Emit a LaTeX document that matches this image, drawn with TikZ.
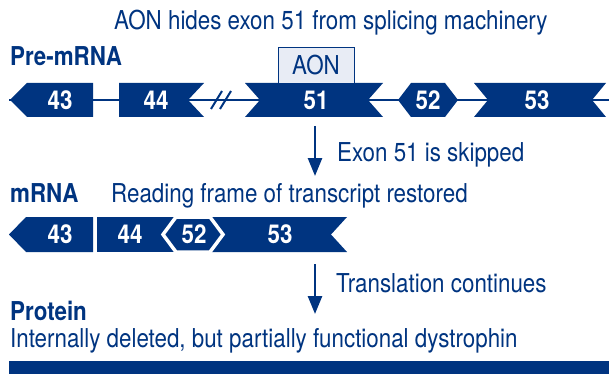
\documentclass[tikz,border=0pt]{standalone}
\usepackage{fontspec}
\setmainfont{TeX Gyre Heros}[FakeStretch=0.86]
\usetikzlibrary{arrows.meta}
\definecolor{navy}{RGB}{0,52,128}
\definecolor{aonfill}{RGB}{232,236,245}
\tikzset{
  exon/.style={fill=navy, draw=none},
  num/.style={text=white, font=\fontsize{26}{30}\selectfont\bfseries, inner sep=0pt, anchor=center},
  txt/.style={text=navy, font=\fontsize{26}{30}\selectfont, inner sep=0pt, anchor=base west},
  hdr/.style={text=navy, font=\fontsize{26}{30}\selectfont\bfseries, inner sep=0pt, anchor=base west},
  intron/.style={draw=navy, line width=2.6pt},
  flow/.style={draw=navy, line width=2.6pt, -{Triangle[width=14pt,length=18pt]}},
}
\begin{document}
\begin{tikzpicture}[x=1pt, y=-1pt]
\useasboundingbox (0,0) rectangle (609,374);

% ---------- pre-mRNA ----------
\node[txt] (title) at (114,30) {AON hides exon 51 from splicing machinery};
\node[hdr] (prelabel) at (10,66) {Pre-mRNA};

\coordinate (pre-start) at (9,100);
\coordinate (pre-end) at (609,100);
\draw[intron] (pre-start) -- (pre-end);
% break marks in the intron
\draw[navy, line width=2pt] (211,109) -- (222,91);
\draw[navy, line width=2pt] (220,109) -- (231,91);

\fill[exon] (10,100) -- (27,83) -- (93,83) -- (93,117) -- (27,117) -- cycle;
\fill[exon] (119,83) -- (204,83) -- (188,100) -- (204,117) -- (119,117) -- cycle;
\fill[exon] (245,83) -- (383,83) -- (368,100) -- (383,117) -- (245,117) -- (260,100) -- cycle;
\fill[exon] (398,100) -- (411,83) -- (445,83) -- (458,100) -- (445,117) -- (411,117) -- cycle;
\fill[exon] (474,83) -- (606,83) -- (592,100) -- (606,117) -- (474,117) -- (488,100) -- cycle;

\node[num] (p43) at (60,100) {43};
\node[num] (p44) at (156,100) {44};
\node[num] (p51) at (316,100) {51};
\node[num] (p52) at (428,100) {52};
\node[num] (p53) at (537,100) {53};

% antisense oligonucleotide on exon 51
\node[draw=navy, line width=0.8pt, fill=aonfill, minimum width=76pt, minimum height=36pt,
      inner sep=0pt, text=navy, font=\fontsize{26}{30}\selectfont] (aon) at (316,65) {AON};

% ---------- skipping ----------
\coordinate (a1s) at (315,126);
\coordinate (a1e) at (315,176);
\draw[flow] (a1s) -- (a1e);
\node[txt] (skip) at (337,161) {Exon 51 is skipped};

% ---------- mRNA ----------
\node[hdr] (mlabel) at (10,202) {mRNA};
\node[txt] (frame) at (111,202) {Reading frame of transcript restored};

\fill[exon] (9,234.5) -- (26,217) -- (93,217) -- (93,252) -- (26,252) -- cycle;
\fill[exon] (97,217) -- (180,217) -- (180,252) -- (97,252) -- cycle;
\fill[exon] (205,217) -- (347,217) -- (331,234.5) -- (347,252) -- (205,252) -- cycle;
\filldraw[fill=navy, draw=white, line width=3.5pt, line join=miter]
  (163,234.5) -- (176,217) -- (210,217) -- (223,234.5) -- (210,252) -- (176,252) -- cycle;

\node[num] (m43) at (60,234.5) {43};
\node[num] (m44) at (130,234.5) {44};
\node[num] (m52) at (194,234.5) {52};
\node[num] (m53) at (280,234.5) {53};

% ---------- translation ----------
\coordinate (a2s) at (315,264);
\coordinate (a2e) at (315,314);
\draw[flow] (a2s) -- (a2e);
\node[txt] (trans) at (336,292) {Translation continues};

% ---------- protein ----------
\node[hdr] (plabel) at (10,320) {Protein};
\node[txt] (pdesc) at (10,347) {Internally deleted, but partially functional dystrophin};
\fill[navy] (9,361) rectangle (609,374);
\end{tikzpicture}
\end{document}
